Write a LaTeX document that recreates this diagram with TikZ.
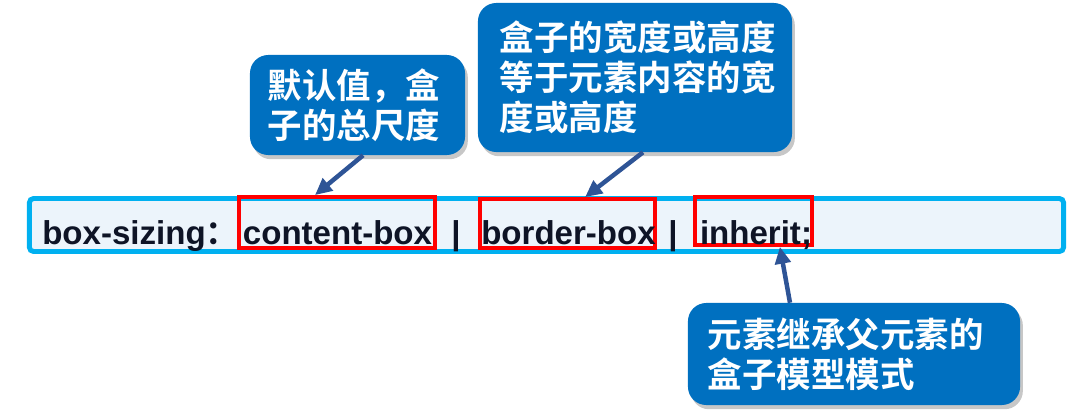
\documentclass[tikz,border=0pt]{standalone}
\usepackage{fontspec}
\setmainfont{Liberation Sans}
\newfontfamily\cjk{Noto Sans CJK SC}[BoldFont={* Bold}]
\usetikzlibrary{arrows.meta,shadows}
\definecolor{barcyan}{RGB}{0,176,240}
\definecolor{barfill}{RGB}{236,244,251}
\definecolor{codeink}{RGB}{14,20,38}
\definecolor{tipblue}{RGB}{0,112,192}
\definecolor{arrowblue}{RGB}{46,84,150}
\definecolor{markred}{RGB}{255,0,0}
\begin{document}
\begin{tikzpicture}[x=0.025cm,y=-0.025cm,>={Triangle[length=12pt,width=11pt]},
    bar/.style={draw=barcyan,fill=barfill,line width=3.5pt,rounded corners=3pt,
      minimum width=25.85cm,minimum height=1.325cm,inner sep=0pt},
    code/.style={font=\fontsize{23.5}{28}\selectfont\bfseries,text=codeink,inner sep=0pt,anchor=base},
    redframe/.style={draw=markred,line width=2.6pt,inner sep=0pt},
    tip/.style={fill=tipblue,rounded corners=13pt,
      drop shadow={shadow xshift=2pt,shadow yshift=-3pt,opacity=0.4,fill=black!55},
      text=white,font=\cjk\bfseries\fontsize{24.5}{28.5}\selectfont,align=left,inner ysep=0pt},
    pointer/.style={->,draw=arrowblue,line width=3.2pt}]
  \useasboundingbox (0,0) rectangle (1073,410);
  % property line
  \node[bar] (bar) at (546.5,225) {};
  \node[redframe,minimum width=4.9cm,minimum height=1.28cm] (cbf) at (337,222.5) {};
  \node[redframe,minimum width=4.38cm,minimum height=1.23cm] (bbf) at (567.5,223.5) {};
  \node[redframe,minimum width=2.93cm,minimum height=1.2cm] (ihf) at (753.5,221) {};
  \node[code,anchor=base west] (prop) at (42,244) {box-sizing{\cjk ：}};
  \node[code] (cbt) at (337.5,244) {content-box};
  \node[code] (sep1) at (456,244) {|};
  \node[code] (bbt) at (568.5,244) {border-box};
  \node[code] (sep2) at (673,244) {|};
  \node[code] (iht) at (756,244) {inherit;};
  % callouts
  \node[tip,minimum width=5.375cm,minimum height=2.5cm,inner xsep=0.45cm,text width=4.475cm]
    (c1) at (357.5,105) {默认值，盒\\子的总尺度};
  \node[tip,minimum width=7.85cm,minimum height=3.725cm,inner xsep=0.55cm,text width=6.75cm]
    (c2) at (635,77.5) {盒子的宽度或高度\\等于元素内容的宽\\度或高度};
  \node[tip,minimum width=8.3cm,minimum height=2.55cm,inner xsep=0.5cm,text width=7.3cm]
    (c3) at (854,354) {元素继承父元素的\\盒子模型模式};
  \draw[pointer] ([xshift=0.14cm]c1.south) -- ([xshift=-0.55cm]cbf.north);
  \draw[pointer] ([xshift=0.2cm]c2.south) -- ([xshift=0.44cm]bbf.north);
  \draw[pointer] ([xshift=-1.6cm]c3.north) -- ([xshift=0.66cm]ihf.south);
\end{tikzpicture}
\end{document}
